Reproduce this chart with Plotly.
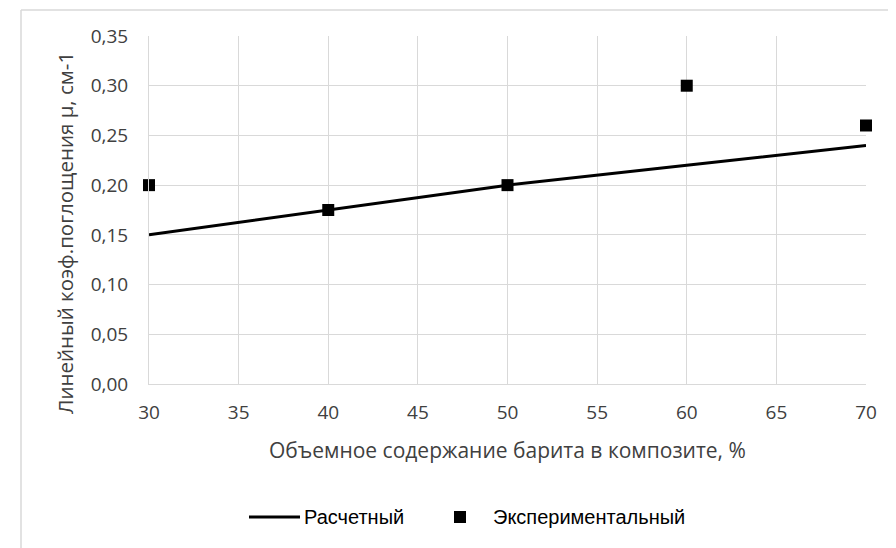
import plotly.graph_objects as go

# Data
barite_pct = [30, 40, 50, 60, 70]
calc_mu = [0.15, 0.175, 0.20, 0.22, 0.24]
exp_mu = [0.20, 0.175, 0.20, 0.30, 0.26]
x_ticks = [30, 35, 40, 45, 50, 55, 60, 65, 70]
y_ticks = [0.00, 0.05, 0.10, 0.15, 0.20, 0.25, 0.30, 0.35]
series_names = ["Расчетный", "Экспериментальный"]

# figure is drawn at an 8px page offset; coordinates below are in figure pixels
W, H = 888, 540
L, R, T, B = 141, 30, 28, 164
pw, ph = W - L - R, H - T - B

def px(xp):
    return (xp - L) / pw

def py(yp):
    return (H - B - yp) / ph

fig = go.Figure()
fig.add_trace(go.Scatter(x=barite_pct, y=calc_mu, mode="lines", name=series_names[0],
                         line=dict(color="black", width=3), showlegend=False, cliponaxis=False))
fig.add_trace(go.Scatter(x=barite_pct, y=exp_mu, mode="markers", name=series_names[1],
                         marker=dict(symbol="square", size=12, color="black"), showlegend=False,
                         cliponaxis=False))

grid = "#d9d9d9"
txt = "#404040"
tickfont = dict(family="Open Sans", size=19, color=txt)
legfont = dict(family="Liberation Sans", size=20, color="black")

fig.update_layout(
    width=W, height=H,
    margin=dict(l=L, r=R, t=T, b=B),
    paper_bgcolor="white", plot_bgcolor="white",
    separators=", ",
    showlegend=False,
    xaxis=dict(range=[30, 70], tickvals=x_ticks, showgrid=True, gridcolor=grid, gridwidth=1,
               zeroline=False, showline=True, linecolor=grid, linewidth=1,
               tickfont=tickfont, ticks="", ticklabelstandoff=11, fixedrange=True),
    yaxis=dict(range=[0, 0.35], tickvals=y_ticks, tickformat=".2f", showgrid=True, gridcolor=grid,
               gridwidth=1, zeroline=False, showline=True, linecolor=grid, linewidth=1,
               tickfont=tickfont, ticks="", ticklabelstandoff=16, fixedrange=True),
    annotations=[
        dict(text="Объемное содержание барита в композите, %", x=0.5, y=py(442), xref="paper",
             yref="paper", showarrow=False, xanchor="center", yanchor="middle",
             font=dict(family="Open Sans", size=21, color=txt)),
        dict(text="Линейный коэф.поглощения µ, см-1", x=px(57), y=py(225), xref="paper",
             yref="paper", showarrow=False, xanchor="center", yanchor="middle", textangle=-90,
             font=dict(family="Open Sans", size=20.5, color=txt)),
        dict(text=series_names[0], x=px(294), y=py(509), xref="paper", yref="paper",
             showarrow=False, xanchor="left", yanchor="middle", font=legfont),
        dict(text=series_names[1], x=px(483), y=py(509), xref="paper", yref="paper",
             showarrow=False, xanchor="left", yanchor="middle", font=legfont),
    ],
    shapes=[
        dict(type="line", xref="paper", yref="paper", x0=px(13), x1=px(900), y0=py(2), y1=py(2),
             line=dict(color=grid, width=1.5)),
        dict(type="line", xref="paper", yref="paper", x0=px(13), x1=px(13), y0=py(2), y1=py(560),
             line=dict(color=grid, width=1.5)),
        # legend keys
        dict(type="line", xref="paper", yref="paper", x0=px(241), x1=px(292), y0=py(509), y1=py(509),
             line=dict(color="black", width=3)),
        dict(type="rect", xref="paper", yref="paper", x0=px(446), x1=px(458), y0=py(503), y1=py(515),
             line=dict(width=0), fillcolor="black"),
    ],
)

fig.write_html("out.html")
